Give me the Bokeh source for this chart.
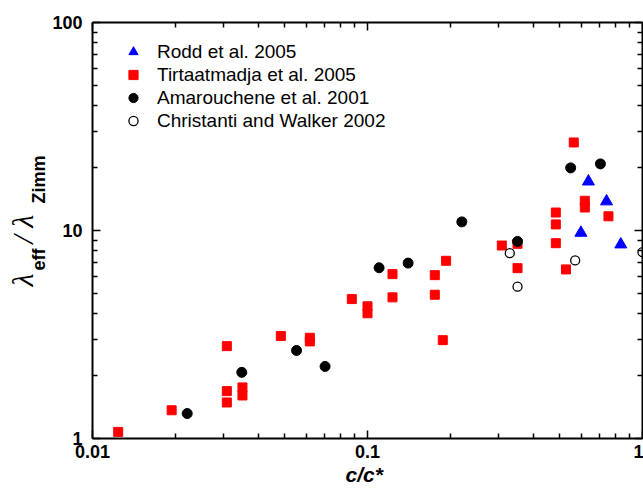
from bokeh.plotting import figure
from bokeh.models import (LogAxis, FixedTicker, Title, Legend, LegendItem, Range1d,
                          CustomJSTickFormatter)
from bokeh.embed import file_html
from bokeh.resources import INLINE

# Rodd et al. 2005
rodd_c = [0.597, 0.636, 0.740, 0.834]
rodd_lam = [9.75, 17.2, 13.8, 8.57]

# Tirtaatmadja et al. 2005
tirt_c = [0.0124, 0.0194, 0.0308, 0.0308, 0.0308, 0.0351, 0.0351, 0.0484,
          0.0617, 0.0617, 0.0877, 0.100, 0.100, 0.1233, 0.1233, 0.1757,
          0.1757, 0.1931, 0.1878, 0.3079, 0.3512, 0.3512, 0.484, 0.484,
          0.484, 0.527, 0.5625, 0.617, 0.617, 0.752]
tirt_lam = [1.076, 1.367, 2.78, 1.69, 1.49, 1.76, 1.61, 3.11,
            3.05, 2.93, 4.68, 4.32, 4.00, 6.17, 4.77, 6.10,
            4.91, 7.15, 2.97, 8.47, 8.63, 6.59, 8.69, 12.2,
            10.7, 6.50, 26.5, 13.9, 12.9, 11.7]

# Amarouchene et al. 2001
amar_c = [0.0221, 0.0349, 0.0552, 0.0701, 0.1102, 0.1405, 0.2203, 0.3512, 0.548, 0.703]
amar_lam = [1.318, 2.08, 2.65, 2.22, 6.62, 6.97, 11.0, 8.86, 20.0, 20.9]

# Christanti and Walker 2002
chris_c = [0.3292, 0.3512, 0.569, 1.0]
chris_lam = [7.78, 5.37, 7.18, 7.87]

x_major = [0.01, 0.1, 1]
y_major = [1, 10, 100]


def decade_minors(lo_exp, hi_exp):
    return [k * 10.0 ** e for e in range(lo_exp, hi_exp) for k in range(2, 10)]


p = figure(width=643, height=488, x_axis_type="log", y_axis_type="log",
           x_range=Range1d(0.01, 1), y_range=Range1d(1, 100),
           output_backend="svg", toolbar_location=None,
           min_border_left=92, min_border_right=1, min_border_top=22,
           min_border_bottom=50)
p.grid.visible = False
p.outline_line_color = None
p.background_fill_color = "white"
p.border_fill_color = "white"

top_axis = LogAxis()
right_axis = LogAxis()
p.add_layout(top_axis, "above")
p.add_layout(right_axis, "right")

plain_labels = CustomJSTickFormatter(code="return tick.toString();")
no_labels = CustomJSTickFormatter(code="return '';")


def style_axis(ax, major, minor, show_labels, standoff=7):
    ax.ticker = FixedTicker(ticks=major, minor_ticks=minor)
    ax.axis_line_width = 2
    ax.axis_line_color = "black"
    ax.major_tick_in = 8
    ax.major_tick_out = 0
    ax.minor_tick_in = 5
    ax.minor_tick_out = 0
    ax.major_tick_line_width = 1.5
    ax.minor_tick_line_width = 1.5
    ax.major_tick_line_color = "black"
    ax.minor_tick_line_color = "black"
    ax.axis_label = None
    if show_labels:
        ax.formatter = plain_labels
        ax.major_label_text_font = "Liberation Sans"
        ax.major_label_text_font_style = "bold"
        ax.major_label_text_font_size = "18px"
        ax.major_label_text_color = "black"
        ax.major_label_standoff = standoff
    else:
        ax.formatter = no_labels
        ax.major_label_text_font_size = "1px"
        ax.major_label_standoff = 0


style_axis(p.below[0], x_major, decade_minors(-2, 0), True, standoff=6)
style_axis(p.left[0], y_major, decade_minors(0, 2), True, standoff=10)
style_axis(top_axis, x_major, decade_minors(-2, 0), False)
style_axis(right_axis, y_major, decade_minors(0, 2), False)

r_tirt = p.scatter(tirt_c, tirt_lam, marker="square", size=9,
                   fill_color="red", line_color="red")
r_rodd = p.scatter(rodd_c, rodd_lam, marker="triangle", size=12,
                   fill_color="blue", line_color="blue")
r_amar = p.scatter(amar_c, amar_lam, marker="circle", size=10,
                   fill_color="black", line_color="black")
r_chris = p.scatter(chris_c, chris_lam, marker="circle", size=9,
                    fill_color="white", line_color="black", line_width=1.3)

legend = Legend(items=[
    LegendItem(label="Rodd et al. 2005", renderers=[r_rodd]),
    LegendItem(label="Tirtaatmadja et al. 2005", renderers=[r_tirt]),
    LegendItem(label="Amarouchene et al. 2001", renderers=[r_amar]),
    LegendItem(label="Christanti and Walker 2002", renderers=[r_chris]),
], location="top_left")
legend.border_line_color = None
legend.background_fill_alpha = 0
legend.margin = 18
legend.padding = 0
legend.spacing = 0
legend.glyph_width = 46
legend.glyph_height = 23
legend.label_height = 23
legend.label_standoff = 1
legend.label_text_font = "Liberation Sans"
legend.label_text_font_size = "19px"
legend.label_text_color = "black"
p.add_layout(legend)

# y-axis title, lambda_eff / lambda_Zimm: subscripts in the column next to
# the axis, the lambdas and the slash in the column outside it.
# Non-breaking spaces keep the gaps (plain runs of spaces collapse in SVG).
NB = "\u00a0"
subs = Title(text="eff" + NB * 9 + "Zimm", align="left", offset=168,
             vertical_align="bottom", standoff=2,
             text_font="Liberation Sans", text_font_style="bold",
             text_font_size="18px", text_color="black")
lams = Title(text="λ" + NB * 4 + "/" + NB + "λ", align="left", offset=152,
             vertical_align="bottom", standoff=-27,
             text_font="Liberation Serif", text_font_style="italic",
             text_font_size="30px", text_color="black")
p.add_layout(subs, "left")
p.add_layout(lams, "left")

# x-axis title
xtitle = Title(text="c/c*", align="left", offset=253, vertical_align="bottom",
               standoff=0, text_font="Liberation Sans",
               text_font_style="bold italic", text_font_size="21px",
               text_color="black")
p.add_layout(xtitle, "below")

open("out.html", "w").write(file_html(p, INLINE))
